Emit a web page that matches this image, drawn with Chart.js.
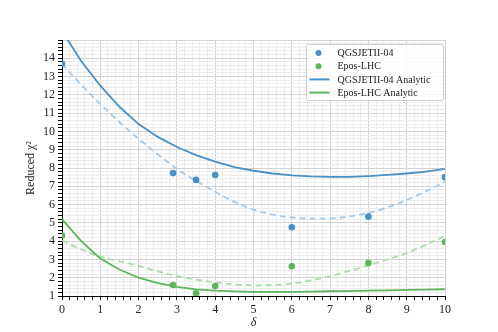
<!DOCTYPE html>
<html lang="en">
  <head>
    <meta charset="UTF-8" />
    <title>Reduced chi2 vs delta</title>
    <script src="https://cdn.jsdelivr.net/npm/chart.js"></script>
    <style>
      body { margin: 0; background: #fff; }
    </style>
  </head>
  <body>
    <canvas id="myChart" width="498" height="332"></canvas>

    <script>
      // measured points
      const deltaData = [0, 2.9, 3.5, 4, 6, 8, 10];
      const qgsPoints = [13.7, 7.72, 7.35, 7.62, 4.76, 5.34, 7.5];
      const eposPoints = [4.3, 1.6, 1.15, 1.55, 2.63, 2.8, 3.95];

      // analytic curves (solid) and fits (dashed)
      const deltaGrid = [0, 0.5, 1, 1.5, 2, 2.5, 3, 3.5, 4, 4.5, 5, 5.5, 6, 6.5, 7, 7.5, 8, 8.5, 9, 9.5, 10];
      const qgsAnalytic = [15.5, 13.85, 12.5, 11.35, 10.4, 9.7, 9.15, 8.7, 8.35, 8.05, 7.85, 7.7, 7.6, 7.54, 7.52, 7.52, 7.56, 7.62, 7.7, 7.8, 7.95];
      const qgsFit = [13.7, 12.55, 11.5, 10.5, 9.6, 8.75, 7.95, 7.3, 6.7, 6.15, 5.72, 5.45, 5.3, 5.23, 5.24, 5.35, 5.55, 5.85, 6.25, 6.72, 7.25];
      const eposAnalytic = [5.2, 4.0, 3.05, 2.45, 2.0, 1.7, 1.5, 1.36, 1.29, 1.25, 1.23, 1.23, 1.23, 1.24, 1.26, 1.27, 1.29, 1.31, 1.33, 1.35, 1.37];
      const eposFit = [4.03, 3.55, 3.15, 2.9, 2.65, 2.35, 2.08, 1.9, 1.75, 1.63, 1.58, 1.6, 1.68, 1.85, 2.08, 2.37, 2.68, 3.0, 3.35, 3.8, 4.28];

      const blue = "#4a90c6";
      const blueLight = "#a6c9e5";
      const green = "#5cb55c";
      const greenLight = "#acdbaa";

      const toXY = (xs, ys) => xs.map((x, i) => ({ x: x, y: ys[i] }));
      const isMajor = (v) => Math.abs(v - Math.round(v)) < 1e-6;

      // legend drawn inside the plot, top right
      const boxLegend = {
        id: "boxLegend",
        afterDraw(chart) {
          const ctx = chart.ctx;
          const a = chart.chartArea;
          const w = 137, h = 56;
          const x0 = a.right - w - 1.5, y0 = a.top + 4.5;
          ctx.save();
          ctx.fillStyle = "rgba(255,255,255,0.85)";
          ctx.strokeStyle = "#cccccc";
          ctx.lineWidth = 1;
          ctx.beginPath();
          ctx.roundRect(x0, y0, w, h, 2);
          ctx.fill();
          ctx.stroke();
          const items = [
            { label: "QGSJETII-04", color: blue, kind: "dot" },
            { label: "Epos-LHC", color: green, kind: "dot" },
            { label: "QGSJETII-04 Analytic", color: blue, kind: "line" },
            { label: "Epos-LHC Analytic", color: green, kind: "line" },
          ];
          ctx.font = "10px 'Liberation Serif'";
          ctx.textBaseline = "middle";
          items.forEach((it, i) => {
            const cy = y0 + 8.5 + i * 13.2;
            if (it.kind === "dot") {
              ctx.fillStyle = it.color;
              ctx.beginPath();
              ctx.arc(x0 + 12, cy, 3, 0, Math.PI * 2);
              ctx.fill();
            } else {
              ctx.strokeStyle = it.color;
              ctx.lineWidth = 2;
              ctx.beginPath();
              ctx.moveTo(x0 + 3, cy);
              ctx.lineTo(x0 + 23, cy);
              ctx.stroke();
            }
            ctx.fillStyle = "#222";
            ctx.fillText(it.label, x0 + 31, cy + 0.5);
          });
          ctx.restore();
        },
      };

      const gridColor = (c) => (isMajor(c.tick.value) ? "#d2d2d2" : "#ececec");

      const ctx = document.querySelector("#myChart").getContext("2d");
      const myChart = new Chart(ctx, {
        type: "scatter",
        data: {
          datasets: [
            {
              label: "QGSJETII-04",
              data: toXY(deltaData, qgsPoints),
              backgroundColor: blue,
              borderWidth: 0,
              pointRadius: 3.3,
            },
            {
              label: "Epos-LHC",
              data: toXY(deltaData, eposPoints),
              backgroundColor: green,
              borderWidth: 0,
              pointRadius: 3.3,
            },
            {
              label: "QGSJETII-04 Analytic",
              data: toXY(deltaGrid, qgsAnalytic),
              showLine: true,
              borderColor: blue,
              borderWidth: 1.8,
              pointRadius: 0,
            },
            {
              label: "Epos-LHC Analytic",
              data: toXY(deltaGrid, eposAnalytic),
              showLine: true,
              borderColor: green,
              borderWidth: 1.8,
              pointRadius: 0,
            },
            {
              label: "QGSJETII-04 fit",
              data: toXY(deltaGrid, qgsFit),
              showLine: true,
              borderColor: blueLight,
              borderWidth: 1.8,
              borderDash: [6, 4],
              cubicInterpolationMode: "monotone",
              pointRadius: 0,
            },
            {
              label: "Epos-LHC fit",
              data: toXY(deltaGrid, eposFit),
              showLine: true,
              borderColor: greenLight,
              borderWidth: 1.8,
              borderDash: [6, 4],
              cubicInterpolationMode: "monotone",
              pointRadius: 0,
            },
          ],
        },
        options: {
          responsive: false,
          animation: false,
          layout: { padding: { top: 40, right: 53, left: 0, bottom: 0 } },
          plugins: { legend: { display: false }, tooltip: { enabled: false } },
          scales: {
            x: {
              type: "linear",
              min: 0,
              max: 10,
              afterFit: (s) => { s.height = 36; },
              border: { color: "#000", width: 1 },
              grid: { color: gridColor, tickColor: "#000", tickLength: 4 },
              ticks: {
                stepSize: 0.2,
                autoSkip: false,
                maxRotation: 0,
                maxTicksLimit: 1000,
                padding: 3,
                color: "#222",
                font: { family: "'Liberation Serif'", size: 12 },
                callback: (v) => (isMajor(v) ? Math.round(v) : ""),
              },
              title: {
                display: true,
                text: "δ",
                color: "#222",
                padding: { top: 0, bottom: 2 },
                font: { family: "'Liberation Serif'", size: 12, style: "italic" },
              },
            },
            y: {
              type: "linear",
              min: 1,
              max: 15,
              afterFit: (s) => { s.width = 62; },
              border: { color: "#000", width: 1 },
              grid: { color: gridColor, tickColor: "#000", tickLength: 4 },
              ticks: {
                stepSize: 0.2,
                autoSkip: false,
                maxTicksLimit: 1000,
                padding: 3,
                color: "#222",
                font: { family: "'Liberation Serif'", size: 12 },
                callback: (v) => (isMajor(v) && v < 14.5 ? Math.round(v) : ""),
              },
              title: {
                display: true,
                text: "Reduced χ²",
                color: "#222",
                padding: { top: 24, bottom: 0 },
                font: { family: "'Liberation Serif'", size: 12 },
              },
            },
          },
        },
        plugins: [boxLegend],
      });
    </script>
  </body>
</html>
